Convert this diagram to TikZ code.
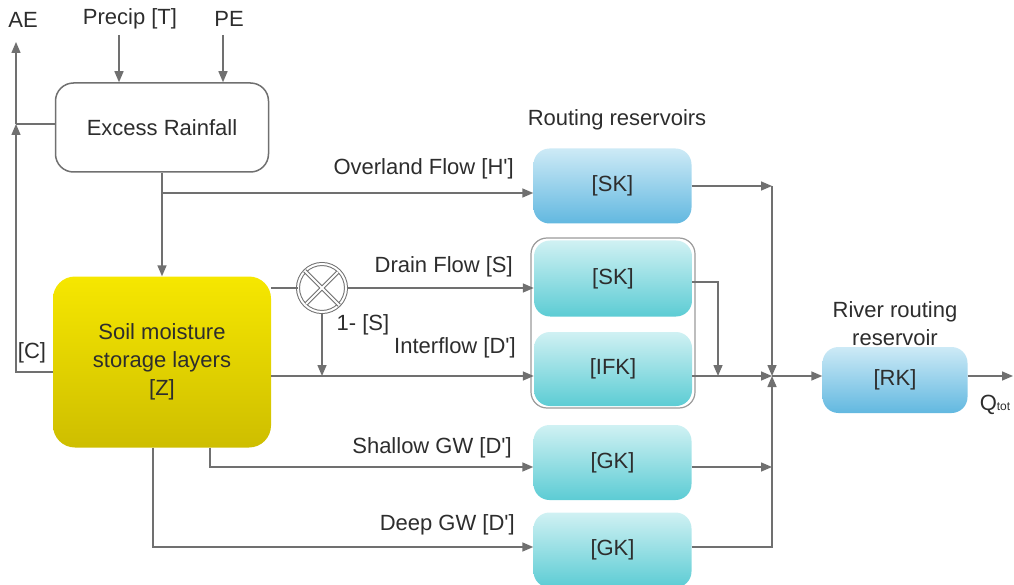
\documentclass[tikz,border=0pt]{standalone}
\usepackage{fontspec}
\setmainfont{Liberation Sans}
\usetikzlibrary{arrows.meta}
\definecolor{linegray}{RGB}{112,112,112}
\definecolor{txtgray}{RGB}{45,45,45}
\definecolor{blueT}{RGB}{205,234,246}
\definecolor{blueB}{RGB}{98,184,224}
\definecolor{tealT}{RGB}{208,241,243}
\definecolor{tealB}{RGB}{92,204,212}
\definecolor{soilT}{RGB}{246,231,0}
\definecolor{soilB}{RGB}{206,190,0}
\begin{document}
\begin{tikzpicture}[x=1pt,y=-1pt,
  font=\fontsize{22}{28}\selectfont,text=txtgray,
  line/.style={draw=linegray,line width=1.5pt},
  flow/.style={line,-{Triangle[length=11pt,width=9pt]}},
  box/.style={rounded corners=16pt,minimum width=158pt,minimum height=75pt,inner sep=0pt},
  bluebox/.style={box,top color=blueT,bottom color=blueB},
  tealbox/.style={box,top color=tealT,bottom color=tealB},
  rainbox/.style={draw=linegray,line width=1.5pt,fill=white,rounded corners=18pt,
    minimum width=213pt,minimum height=89pt},
  soilbox/.style={top color=soilT,bottom color=soilB,rounded corners=22pt,
    minimum width=218pt,minimum height=171pt,align=center},
  group/.style={draw=linegray!70,line width=1.2pt,fill=white,rounded corners=16pt,
    minimum width=164pt,minimum height=170pt},
  mixer/.style={circle,minimum size=48pt,inner sep=0pt,fill=white,draw=linegray,
    double=white,double distance=2pt,line width=1pt},
  lbl/.style={anchor=east,inner sep=0pt}]
  \useasboundingbox (0,0) rectangle (1014,585);

  \node (ae) at (23,20) {AE};
  \node (precip) at (130,19) {Precip [T]};
  \node (pe) at (229,19) {PE};
  \node[rainbox] (excess) at (162,127.5) {Excess Rainfall};
  \node[soilbox] (soil) at (162,362) {Soil moisture\\storage layers\\{}[Z]};

  \node (rtitle) at (617,120) {Routing reservoirs};
  \node[bluebox] (skO) at (612.5,186) {[SK]};
  \node[group] (grp) at (613,323) {};
  \node[tealbox,minimum height=76pt] (skD) at (613,278.5) {[SK]};
  \node[tealbox,minimum height=74pt] (ifk) at (613,369) {[IFK]};
  \node[tealbox] (gkS) at (612.5,462.5) {[GK]};
  \node[tealbox] (gkD) at (612.5,550) {[GK]};
  \node[align=center] (rrtitle) at (895,324) {River routing\\reservoir};
  \node[bluebox,minimum width=145pt,minimum height=66pt] (rk) at (895,380) {[RK]};
  \node (qtot) at (995,405) {Q{\fontsize{12}{12}\selectfont tot}};

  \node[mixer] (mix) at (322,288) {};
  \draw[linegray,double=white,double distance=2pt,line width=1pt,shorten <=2pt,shorten >=2pt]
    (mix.north west) -- (mix.south east) (mix.north east) -- (mix.south west);

  \node[lbl] (lov) at (514,169) {Overland Flow [H\textquotesingle]};
  \node[lbl] (ldr) at (513,267) {Drain Flow [S]};
  \node[lbl] (lif) at (516,348) {Interflow [D\textquotesingle]};
  \node[lbl] (lsh) at (512,448) {Shallow GW [D\textquotesingle]};
  \node[lbl] (ldp) at (515,525) {Deep GW [D\textquotesingle]};
  \node (lmix) at (363,325) {1- [S]};
  \node (lc) at (32,353) {[C]};

  \coordinate (pin) at (119,35);
  \coordinate (pein) at (223,35);
  \coordinate (aej) at (16,124);
  \coordinate (aetop) at (16,42);
  \coordinate (cj) at (16,372);
  \coordinate (jo) at (162,193);
  \coordinate (lvint) at (322,376);
  \coordinate (dk) at (718,282);
  \coordinate (jn) at (772,376);
  \coordinate (ctop) at (772,186);
  \coordinate (sh) at (772,467);
  \coordinate (cbot) at (772,547);
  \coordinate (shs) at (210,467);
  \coordinate (dps) at (153,547);
  \coordinate (qout) at (1013,376);

  \draw[flow] (pin) -- (pin |- excess.north);
  \draw[flow] (pein) -- (pein |- excess.north);
  \draw[flow] (soil.west |- cj) -- (cj) -- (aej);
  \draw[line] (excess.west |- aej) -- (aej);
  \draw[flow] (aej) -- (aetop);
  \draw[flow] (excess) -- (soil);
  \draw[flow] (jo) -- (jo -| skO.west);

  \draw[line] (soil.east |- mix) -- (mix);
  \draw[flow] (mix) -- (mix -| skD.west);
  \draw[flow] (mix) -- (lvint);
  \draw[flow] (soil.east |- lvint) -- (lvint -| ifk.west);
  \draw[flow] (soil.south -| shs) -- (shs) -- (shs -| gkS.west);
  \draw[flow] (soil.south -| dps) -- (dps) -- (dps -| gkD.west);

  \draw[flow] (skO.east) -- (ctop);
  \draw[flow] (ctop) -- (jn);
  \draw[flow] (skD.east |- dk) -- (dk) -- (dk |- lvint);
  \draw[flow] (ifk.east |- jn) -- (jn);
  \draw[flow] (gkS.east |- sh) -- (sh);
  \draw[flow] (gkD.east |- cbot) -- (cbot) -- (jn);
  \draw[flow] (jn) -- (jn -| rk.west);
  \draw[flow] (rk.east |- jn) -- (qout);
\end{tikzpicture}
\end{document}
